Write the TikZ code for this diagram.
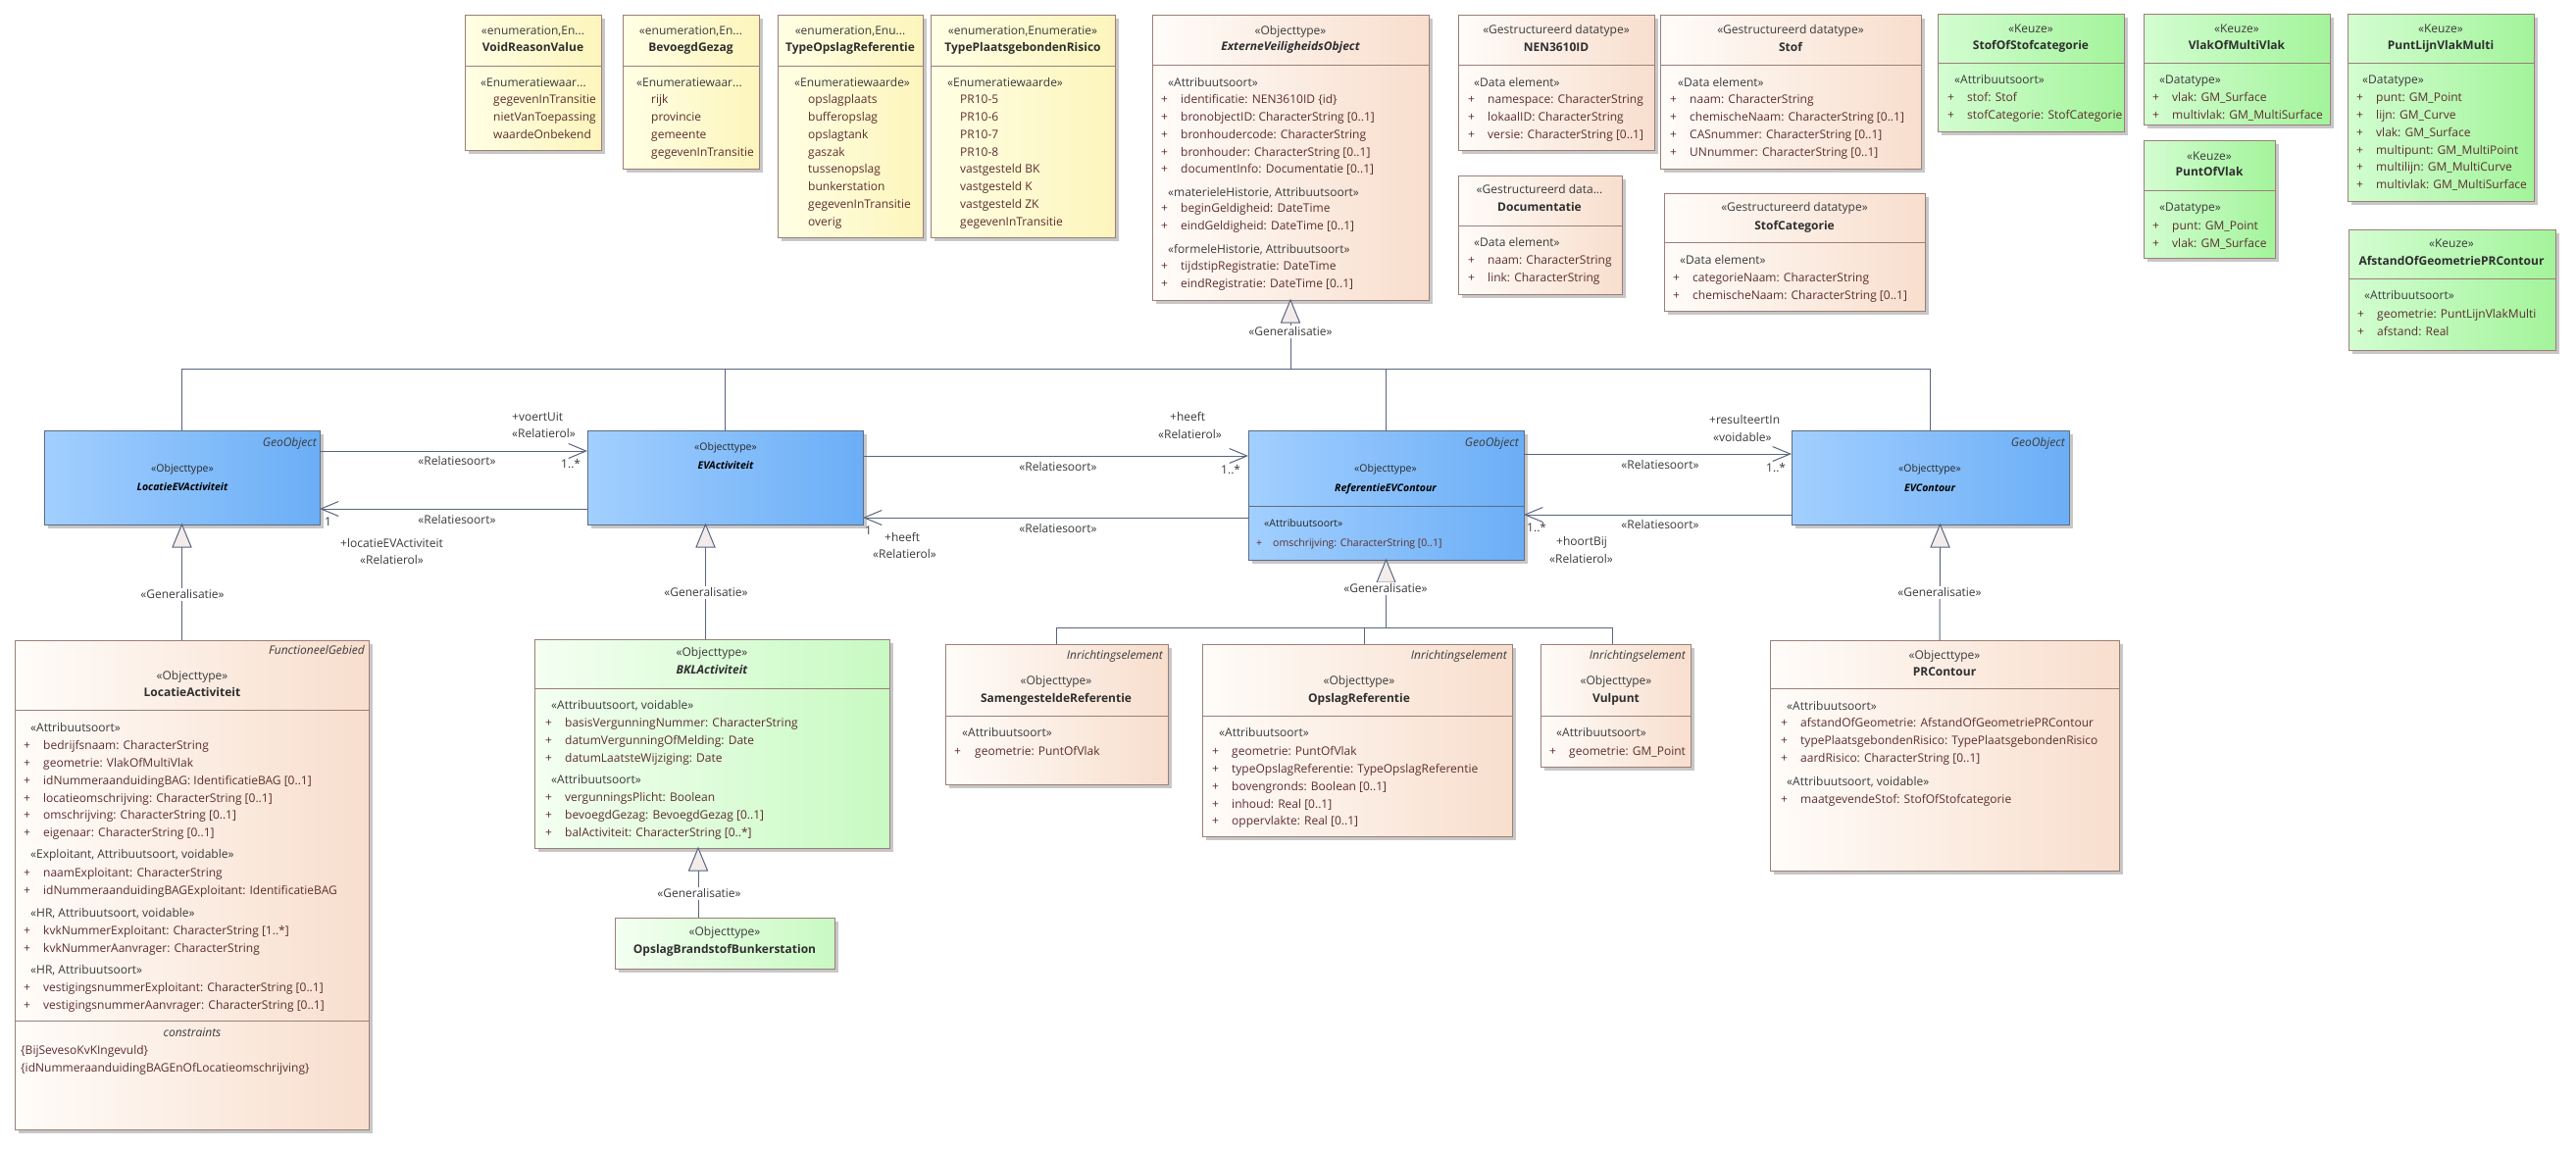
\documentclass[tikz,border=0pt]{standalone}
\usepackage{fontspec}
\setmainfont{Open Sans}
\usetikzlibrary{arrows.meta,shadows}
\definecolor{bcol}{HTML}{9C7F78}
\definecolor{bluebord}{HTML}{5E6C84}
\definecolor{connc}{HTML}{5A6480}
\definecolor{pL}{HTML}{FFFCF9}
\definecolor{pR}{HTML}{F8DECD}
\definecolor{yL}{HTML}{FFFFE4}
\definecolor{yR}{HTML}{FDF5BC}
\definecolor{bL}{HTML}{A2CFFF}
\definecolor{bR}{HTML}{6BAEF6}
\definecolor{gL}{HTML}{D3FDD1}
\definecolor{gR}{HTML}{A3F49B}
\definecolor{lgL}{HTML}{F4FFF2}
\definecolor{lgR}{HTML}{C8FAC2}
\definecolor{attc}{HTML}{5C2E2E}
\definecolor{secc}{HTML}{3A3A3A}
\definecolor{txtc}{HTML}{2E2E2E}
\definecolor{trif}{HTML}{F4ECEA}
\newcommand\fN{\fontsize{12}{14}\selectfont}
\newcommand\fB{\fontsize{10.5}{12.5}\selectfont}
\newcommand\ubox[6]{\node[#1, minimum width={#5pt-#3pt}, minimum height={#6pt-#4pt}] (#2) at (#3,#4) {};}
\newcommand\usep[3]{\draw[sepl] (#1,#3) -- (#2,#3);}
\newcommand\hdr[6]{\node[ster] (#1s) at (#2,#3) {#5};\node[cnm] (#1n) at (#2,#4) {#6};}
\newcommand\sect[4]{\node[secl] (#1) at (#2,#3) {#4};}
\newcommand\alist[5]{\foreach \itm [count=\i from 0] in {#5}{\node[att] (#1\i) at (#3,{#4+17.8*\i}) {\itm};\node[plus] (#1p\i) at (#2,{#4+17.8*\i}) {+};}}
\newcommand\elist[4]{\foreach \itm [count=\i from 0] in {#4}{\node[enm] (#1\i) at (#2,{#3+17.8*\i}) {\itm};}}
\newcommand\gtri[1]{\draw[tri] (#1) -- ++(-9.5,23) -- ++(19,0) -- cycle;}
\tikzset{
 box/.style={draw=bcol, line width=0.9pt, inner sep=0pt, outer sep=0pt, anchor=north west, drop shadow={shadow xshift=4pt, shadow yshift=-4pt, fill=black!22, opacity=1}},
 peach/.style={box, left color=pL, right color=pR},
 yel/.style={box, left color=yL, right color=yR},
 blu/.style={box, draw=bluebord, left color=bL, right color=bR},
 grn/.style={box, left color=gL, right color=gR},
 lgrn/.style={box, left color=lgL, right color=lgR},
 sepl/.style={draw=bcol, line width=0.9pt},
 ster/.style={inner sep=0pt, anchor=mid, text=secc, font=\fN},
 cnm/.style={inner sep=0pt, anchor=mid, text=txtc, font=\fN\bfseries},
 secl/.style={inner sep=0pt, anchor=mid west, text=secc, font=\fN},
 att/.style={inner sep=0pt, anchor=mid west, text=attc, font=\fN},
 plus/.style={att},
 enm/.style={att},
 tag/.style={inner sep=0pt, anchor=mid east, text=secc, font=\fN\itshape},
 conn/.style={draw=connc, line width=1pt},
 assoc/.style={conn, -{Straight Barb[length=18pt,width=15pt,line width=1pt]}},
 tri/.style={draw=connc, line width=1pt, fill=trif, line join=miter},
 glbl/.style={inner sep=2pt, fill=white, text=secc, anchor=mid, font=\fN},
 rl/.style={inner sep=0pt, anchor=mid west, text=secc, font=\fN},
 rc/.style={inner sep=0pt, anchor=mid, text=secc, font=\fN},
}
\begin{document}
\begin{tikzpicture}[x=1pt,y=-1pt,font=\fN]
\useasboundingbox (0,0) rectangle (2627,1171);
\fill[white] (0,0) rectangle (2627,1171);

% ---------- enumerations
\ubox{yel}{vrv}{474}{15}{613}{153}
\usep{474}{613}{67}
\hdr{vrv}{543.5}{33}{50}{«enumeration,En...}{VoidReasonValue}
\sect{vrvS}{490}{86}{«Enumeratiewaar...}
\elist{vrvE}{503}{103}{gegevenInTransitie,nietVanToepassing,waardeOnbekend}

\ubox{yel}{bg}{635}{15}{774}{172}
\usep{635}{774}{67}
\hdr{bg}{704.5}{33}{50}{«enumeration,En...}{BevoegdGezag}
\sect{bgS}{649}{86}{«Enumeratiewaar...}
\elist{bgE}{664}{103}{rijk,provincie,gemeente,gegevenInTransitie}

\ubox{yel}{tor}{793}{15}{941}{242}
\usep{793}{941}{67}
\hdr{tor}{867}{33}{50}{«enumeration,Enu...}{TypeOpslagReferentie}
\sect{torS}{810}{86}{«Enumeratiewaarde»}
\elist{torE}{824}{103}{opslagplaats,bufferopslag,opslagtank,gaszak,tussenopslag,bunkerstation,gegevenInTransitie,overig}

\ubox{yel}{tpr}{949}{15}{1137}{242}
\usep{949}{1137}{67}
\hdr{tpr}{1043}{33}{50}{«enumeration,Enumeratie»}{TypePlaatsgebondenRisico}
\sect{tprS}{966}{86}{«Enumeratiewaarde»}
\elist{tprE}{979}{103}{PR10-5,PR10-6,PR10-7,PR10-8,vastgesteld BK,vastgesteld K,vastgesteld ZK,gegevenInTransitie}

% ---------- ExterneVeiligheidsObject
\ubox{peach}{evo}{1175}{15}{1457}{306}
\usep{1175}{1457}{66}
\hdr{evo}{1316}{33}{49}{«Objecttype»}{\itshape ExterneVeiligheidsObject}
\sect{evoS1}{1191}{86}{«Attribuutsoort»}
\alist{evoA}{1184}{1204}{103}{identificatie: NEN3610ID \{id\},bronobjectID: CharacterString [0..1],bronhoudercode: CharacterString,bronhouder: CharacterString [0..1],documentInfo: Documentatie [0..1]}
\sect{evoS2}{1191}{198}{«materieleHistorie, Attribuutsoort»}
\alist{evoB}{1184}{1204}{214}{beginGeldigheid: DateTime,eindGeldigheid: DateTime [0..1]}
\sect{evoS3}{1191}{256}{«formeleHistorie, Attribuutsoort»}
\alist{evoC}{1184}{1204}{273}{tijdstipRegistratie: DateTime,eindRegistratie: DateTime [0..1]}

% ---------- datatypes
\ubox{peach}{nen}{1487}{15}{1687}{153}
\usep{1487}{1687}{66}
\hdr{nen}{1587}{32}{50}{«Gestructureerd datatype»}{NEN3610ID}
\sect{nenS}{1503}{86}{«Data element»}
\alist{nenA}{1497}{1517}{103}{namespace: CharacterString,lokaalID: CharacterString,versie: CharacterString [0..1]}

\ubox{peach}{stof}{1693}{15}{1959}{172}
\usep{1693}{1959}{66}
\hdr{stof}{1826}{32}{50}{«Gestructureerd datatype»}{Stof}
\sect{stofS}{1711}{86}{«Data element»}
\alist{stofA}{1703}{1723}{103}{naam: CharacterString,chemischeNaam: CharacterString [0..1],CASnummer: CharacterString [0..1],UNnummer: CharacterString [0..1]}

\ubox{peach}{doc}{1487}{179}{1654}{300}
\usep{1487}{1654}{230}
\hdr{doc}{1570}{195}{213}{«Gestructureerd data...}{Documentatie}
\sect{docS}{1503}{249}{«Data element»}
\alist{docA}{1497}{1517}{267}{naam: CharacterString,link: CharacterString}

\ubox{peach}{stc}{1697}{197}{1963}{317}
\usep{1697}{1963}{247}
\hdr{stc}{1830}{213}{232}{«Gestructureerd datatype»}{StofCategorie}
\sect{stcS}{1713}{267}{«Data element»}
\alist{stcA}{1706}{1726}{285}{categorieNaam: CharacterString,chemischeNaam: CharacterString [0..1]}

% ---------- Keuze
\ubox{grn}{sos}{1976}{14}{2166}{134}
\usep{1976}{2166}{64}
\hdr{sos}{2071}{31}{48}{«Keuze»}{StofOfStofcategorie}
\sect{sosS}{1993}{83}{«Attribuutsoort»}
\alist{sosA}{1986}{2006}{101}{stof: Stof,stofCategorie: StofCategorie}

\ubox{grn}{vomv}{2186}{14}{2376}{127}
\usep{2186}{2376}{64}
\hdr{vomv}{2281}{31}{48}{«Keuze»}{VlakOfMultiVlak}
\sect{vomvS}{2202}{83}{«Datatype»}
\alist{vomvA}{2195}{2215}{101}{vlak: GM\_Surface,multivlak: GM\_MultiSurface}

\ubox{grn}{plvm}{2394}{14}{2584}{205}
\usep{2394}{2584}{64}
\hdr{plvm}{2489}{31}{48}{«Keuze»}{PuntLijnVlakMulti}
\sect{plvmS}{2409}{83}{«Datatype»}
\alist{plvmA}{2403}{2423}{101}{punt: GM\_Point,lijn: GM\_Curve,vlak: GM\_Surface,multipunt: GM\_MultiPoint,multilijn: GM\_MultiCurve,multivlak: GM\_MultiSurface}

\ubox{grn}{pov}{2186}{143}{2320}{263}
\usep{2186}{2320}{194}
\hdr{pov}{2253}{161}{177}{«Keuze»}{PuntOfVlak}
\sect{povS}{2202}{213}{«Datatype»}
\alist{povA}{2195}{2215}{232}{punt: GM\_Point,vlak: GM\_Surface}

\ubox{grn}{aog}{2395}{234}{2606}{357}
\usep{2395}{2606}{284}
\hdr{aog}{2500}{250}{268}{«Keuze»}{AfstandOfGeometriePRContour}
\sect{aogS}{2411}{303}{«Attribuutsoort»}
\alist{aogA}{2404}{2424}{322}{geometrie: PuntLijnVlakMulti,afstand: Real}

% ---------- blue row
\ubox{blu}{loc}{45}{439}{326}{535}
\node[tag] (locg) at (323,453) {GeoObject};
\node[ster, text=black!85, font=\fB] (locs) at (186,479) {«Objecttype»};
\node[cnm, text=black, font=\fB\bfseries\itshape] (locn) at (186,498) {LocatieEVActiviteit};

\ubox{blu}{evact}{599}{439}{880}{535}
\node[ster, text=black!85, font=\fB] (evacts) at (740,457) {«Objecttype»};
\node[cnm, text=black, font=\fB\bfseries\itshape] (evactn) at (740,476) {EVActiviteit};

\ubox{blu}{ref}{1273}{439}{1554}{571}
\draw[draw=bluebord, line width=0.9pt] (1273,516) -- (1554,516);
\node[tag] (refg) at (1549,453) {GeoObject};
\node[ster, text=black!85, font=\fB] (refs) at (1413,479) {«Objecttype»};
\node[cnm, text=black, font=\fB\bfseries\itshape] (refn) at (1413,499) {ReferentieEVContour};
\node[secl, text=black!85, font=\fB] (refS) at (1289,535) {«Attribuutsoort»};
\node[att, font=\fB] (refAp) at (1281,555) {+};
\node[att, font=\fB] (refA) at (1298,555) {omschrijving: CharacterString [0..1]};

\ubox{blu}{evc}{1827}{439}{2110}{535}
\node[tag] (evcg) at (2106,453) {GeoObject};
\node[ster, text=black!85, font=\fB] (evcs) at (1968,479) {«Objecttype»};
\node[cnm, text=black, font=\fB\bfseries\itshape] (evcn) at (1968,499) {EVContour};

% ---------- LocatieActiviteit
\ubox{peach}{loca}{15}{653}{376}{1152}
\node[tag] (locag) at (372,665) {FunctioneelGebied};
\hdr{loca}{196}{691}{708}{«Objecttype»}{LocatieActiviteit}
\usep{15}{376}{724}
\sect{locaS1}{31}{744}{«Attribuutsoort»}
\alist{locaA}{24}{44}{762}{bedrijfsnaam: CharacterString,geometrie: VlakOfMultiVlak,idNummeraanduidingBAG: IdentificatieBAG [0..1],locatieomschrijving: CharacterString [0..1],omschrijving: CharacterString [0..1],eigenaar: CharacterString [0..1]}
\sect{locaS2}{31}{873}{«Exploitant, Attribuutsoort, voidable»}
\alist{locaB}{24}{44}{892}{naamExploitant: CharacterString,idNummeraanduidingBAGExploitant: IdentificatieBAG}
\sect{locaS3}{31}{933}{«HR, Attribuutsoort, voidable»}
\alist{locaC}{24}{44}{951}{kvkNummerExploitant: CharacterString [1..*],kvkNummerAanvrager: CharacterString}
\sect{locaS4}{31}{991}{«HR, Attribuutsoort»}
\alist{locaD}{24}{44}{1009}{vestigingsnummerExploitant: CharacterString [0..1],vestigingsnummerAanvrager: CharacterString [0..1]}
\usep{15}{376}{1041}
\node[ster, font=\fN\itshape] (locac) at (196,1055) {constraints};
\node[att] (locak1) at (21,1073) {\{BijSevesoKvKIngevuld\}};
\node[att] (locak2) at (21,1091) {\{idNummeraanduidingBAGEnOfLocatieomschrijving\}};

% ---------- BKLActiviteit
\ubox{lgrn}{bkl}{545}{652}{907}{865}
\usep{545}{907}{702}
\hdr{bkl}{726}{667}{685}{«Objecttype»}{\itshape BKLActiviteit}
\sect{bklS1}{562}{721}{«Attribuutsoort, voidable»}
\alist{bklA}{556}{576}{739}{basisVergunningNummer: CharacterString,datumVergunningOfMelding: Date,datumLaatsteWijziging: Date}
\sect{bklS2}{562}{797}{«Attribuutsoort»}
\alist{bklB}{556}{576}{815}{vergunningsPlicht: Boolean,bevoegdGezag: BevoegdGezag [0..1],balActiviteit: CharacterString [0..*]}

\ubox{lgrn}{opsb}{627}{936}{851}{988}
\hdr{opsb}{739}{952}{970}{«Objecttype»}{OpslagBrandstofBunkerstation}

% ---------- Inrichtingselementen
\ubox{peach}{samr}{964}{657}{1191}{800}
\node[tag] (samrg) at (1186,670) {Inrichtingselement};
\hdr{samr}{1077}{696}{714}{«Objecttype»}{SamengesteldeReferentie}
\usep{964}{1191}{730}
\sect{samrS}{981}{749}{«Attribuutsoort»}
\alist{samrA}{973}{994}{768}{geometrie: PuntOfVlak}

\ubox{peach}{opsr}{1226}{657}{1542}{853}
\node[tag] (opsrg) at (1537,670) {Inrichtingselement};
\hdr{opsr}{1386}{696}{714}{«Objecttype»}{OpslagReferentie}
\usep{1226}{1542}{730}
\sect{opsrS}{1243}{749}{«Attribuutsoort»}
\alist{opsrA}{1236}{1256}{768}{geometrie: PuntOfVlak,typeOpslagReferentie: TypeOpslagReferentie,bovengronds: Boolean [0..1],inhoud: Real [0..1],oppervlakte: Real [0..1]}

\ubox{peach}{vul}{1571}{657}{1724}{782}
\node[tag] (vulg) at (1719,670) {Inrichtingselement};
\hdr{vul}{1648}{696}{714}{«Objecttype»}{Vulpunt}
\usep{1571}{1724}{730}
\sect{vulS}{1587}{749}{«Attribuutsoort»}
\alist{vulA}{1580}{1600}{768}{geometrie: GM\_Point}

% ---------- PRContour
\ubox{peach}{prc}{1805}{653}{2161}{888}
\hdr{prc}{1983}{670}{687}{«Objecttype»}{PRContour}
\usep{1805}{2161}{702}
\sect{prcS1}{1822}{722}{«Attribuutsoort»}
\alist{prcA}{1816}{1836}{739}{afstandOfGeometrie: AfstandOfGeometriePRContour,typePlaatsgebondenRisico: TypePlaatsgebondenRisico,aardRisico: CharacterString [0..1]}
\sect{prcS2}{1822}{799}{«Attribuutsoort, voidable»}
\alist{prcB}{1816}{1836}{817}{maatgevendeStof: StofOfStofcategorie}

% ---------- generalisation tree (top)
\coordinate (gj) at (1316,376);
\draw[conn] ([yshift=-23pt]evo.south) -- (gj);
\draw[conn] (loc.north) |- (gj);
\draw[conn] (evact.north) |- (gj);
\draw[conn] (ref.north) |- (gj);
\draw[conn] (evc.north) |- (gj);
\gtri{evo.south}
\node[glbl] (gl1) at (1316,340) {«Generalisatie»};

% lower generalisations
\draw[conn] ([yshift=-23pt]loc.south) -- (loc.south |- loca.north);
\gtri{loc.south}
\node[glbl] (gl2) at (186,608) {«Generalisatie»};

\draw[conn] ([xshift=-20pt,yshift=-23pt]evact.south) -- ([xshift=-6.5pt]bkl.north);
\gtri{[xshift=-20pt]evact.south}
\node[glbl] (gl3) at (720,606) {«Generalisatie»};

\draw[conn] ([xshift=-14pt,yshift=-23pt]bkl.south) -- ([xshift=-27pt]opsb.north);
\gtri{[xshift=-14pt]bkl.south}
\node[glbl] (gl4) at (713,913) {«Generalisatie»};

\coordinate (rj) at (1413.5,640);
\draw[conn] ([yshift=-23pt]ref.south) -- (rj);
\draw[conn] (samr.north) |- (rj);
\draw[conn] ([xshift=7pt]opsr.north) |- (rj);
\draw[conn] ([xshift=-3pt]vul.north) |- (rj);
\gtri{ref.south}
\node[glbl] (gl5) at (1413,602) {«Generalisatie»};

\draw[conn] ([xshift=10pt,yshift=-23pt]evc.south) -- ([xshift=-5pt]prc.north);
\gtri{[xshift=10pt]evc.south}
\node[glbl] (gl6) at (1978,606) {«Generalisatie»};

% ---------- associations
\draw[assoc] ([yshift=27pt]loc.east) -- ([yshift=27pt]evact.west);
\draw[assoc] ([yshift=-32pt]evact.west) -- ([yshift=-32pt]loc.east);
\draw[assoc] ([yshift=22pt]evact.east) -- ([yshift=40pt]ref.west);
\draw[assoc] ([yshift=-23pt]ref.west) -- ([yshift=-41pt]evact.east);
\draw[assoc] ([yshift=42pt]ref.east) -- ([yshift=24pt]evc.west);
\draw[assoc] ([yshift=-38pt]evc.west) -- ([yshift=-20pt]ref.east);

\node[rl] (a1r) at (522,427) {+voertUit};
\node[rl] (a1s) at (522,444) {«Relatierol»};
\node[rc] (a1t) at (466,472) {«Relatiesoort»};
\node[rl] (a1m) at (572,475) {1..*};
\node[rl] (a2m) at (331,534) {1};
\node[rc] (a2t) at (466,532) {«Relatiesoort»};
\node[rl] (a2r) at (347,556) {+locatieEVActiviteit};
\node[rl] (a2s) at (367,573) {«Relatierol»};

\node[rl] (a3r) at (1193,427) {+heeft};
\node[rl] (a3s) at (1181,445) {«Relatierol»};
\node[rc] (a3t) at (1079,478) {«Relatiesoort»};
\node[rl] (a3m) at (1245,481) {1..*};
\node[rl] (a4m) at (882,543) {1};
\node[rl] (a4r) at (902,550) {+heeft};
\node[rl] (a4s) at (890,567) {«Relatierol»};
\node[rc] (a4t) at (1079,541) {«Relatiesoort»};

\node[rl] (a5r) at (1743,430) {+resulteertIn};
\node[rl] (a5s) at (1747,448) {«voidable»};
\node[rc] (a5t) at (1693,476) {«Relatiesoort»};
\node[rl] (a5m) at (1801,479) {1..*};
\node[rl] (a6m) at (1557,540) {1..*};
\node[rl] (a6r) at (1587,554) {+hoortBij};
\node[rl] (a6s) at (1580,572) {«Relatierol»};
\node[rc] (a6t) at (1693,537) {«Relatiesoort»};
\end{tikzpicture}
\end{document}
